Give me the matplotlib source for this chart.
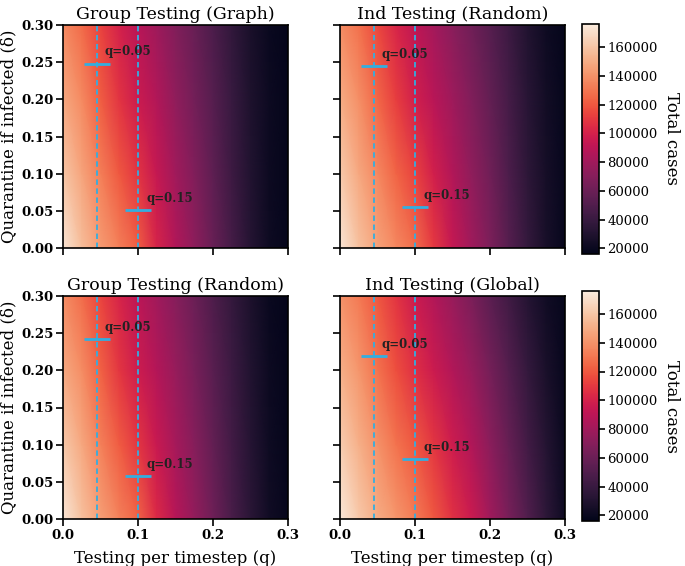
import numpy as np
import matplotlib
matplotlib.use("Agg")
import matplotlib.pyplot as plt
import seaborn as sns

plt.rcParams['font.family'] = ['DejaVu Serif']

# grid of the heatmaps
q_vals = [0.0, 0.025, 0.05, 0.075, 0.1, 0.125, 0.15, 0.175, 0.2, 0.225, 0.25, 0.275, 0.3]
delta_vals = [0.0, 0.1, 0.2, 0.3]

# total cases (thousands), one row per delta
group_graph = [
    [173, 157, 144, 133, 122, 101, 86, 73, 59, 45, 32, 22, 18],
    [160, 147, 133, 120, 108, 94, 80, 68, 55, 42, 30, 21, 17.5],
    [148, 137, 122, 108, 96, 86, 74, 63, 52, 40, 29, 21, 17.5],
    [137, 126, 113, 100, 89, 79, 68, 59, 48, 37, 27, 20, 17],
]
ind_random = [
    [174, 158, 146, 136, 127, 110, 94, 80, 67, 52, 38, 26, 19],
    [162, 148, 136, 124, 113, 99, 86, 74, 62, 48, 35, 25, 18.5],
    [150, 139, 125, 111, 99, 89, 79, 68, 57, 45, 33, 24, 18],
    [138, 128, 115, 102, 91, 81, 71, 62, 52, 41, 30, 22, 17.5],
]
group_random = [
    [174, 158, 145, 134, 124, 104, 88, 75, 61, 47, 34, 23, 18],
    [161, 148, 134, 121, 109, 95, 82, 70, 57, 44, 32, 22, 17.5],
    [149, 138, 123, 109, 97, 87, 76, 65, 53, 41, 30, 21, 17.5],
    [138, 127, 114, 101, 90, 80, 70, 60, 49, 38, 28, 20, 17],
]
ind_global = [
    [175, 161, 150, 141, 132, 120, 107, 96, 80, 65, 50, 35, 22],
    [163, 151, 140, 129, 120, 109, 97, 86, 72, 58, 44, 31, 20],
    [151, 141, 129, 117, 106, 96, 86, 76, 64, 51, 38, 27, 19],
    [140, 131, 120, 108, 96, 86, 76, 66, 54, 43, 32, 23, 18],
]

titles = ["Group Testing (Graph)", "Ind Testing (Random)",
          "Group Testing (Random)", "Ind Testing (Global)"]
panels = [group_graph, ind_random, group_random, ind_global]

# chosen operating points (q, delta) per panel
q_lines = [0.045, 0.1]
mark_q = [0.045, 0.1]
mark_delta = [[0.248, 0.051], [0.245, 0.055], [0.242, 0.058], [0.219, 0.081]]
mark_labels = ["q=0.05", "q=0.15"]

vmin, vmax = 16000, 176000
cbar_ticks = [20000, 40000, 60000, 80000, 100000, 120000, 140000, 160000]

W, H = 685, 566
fig = plt.figure(figsize=(W / 100, H / 100), dpi=100)

def px_axes(x0, x1, y0, y1):
    return fig.add_axes([x0 / W, 1 - y1 / H, (x1 - x0) / W, (y1 - y0) / H])

axes = [px_axes(63, 288, 25, 248), px_axes(340, 565, 25, 248),
        px_axes(63, 288, 296, 519), px_axes(340, 565, 296, 519)]
caxes = [px_axes(582, 599, 24, 254), px_axes(582, 599, 291, 521)]

cmap = sns.color_palette("rocket", as_cmap=True)
line_col = '#33aee0'

for i, ax in enumerate(axes):
    Z = np.array(panels[i]) * 1000
    mesh = ax.pcolormesh(q_vals, delta_vals, Z, cmap=cmap, vmin=vmin, vmax=vmax,
                         shading='gouraud', rasterized=True)
    for ql in q_lines:
        ax.axvline(ql, color=line_col, ls='--', lw=1.3, dashes=(3, 2))
    for j in range(2):
        ax.plot(mark_q[j], mark_delta[i][j], marker='_', ms=19, mew=2, color=line_col)
        ax.text(mark_q[j] + 0.011, mark_delta[i][j] + 0.011, mark_labels[j],
                fontsize=8.5, fontweight='bold', color='#222222')
    ax.set_xlim(0, 0.3)
    ax.set_ylim(0, 0.3)
    ax.set_xticks([0.0, 0.1, 0.2, 0.3])
    ax.set_yticks([0.0, 0.05, 0.1, 0.15, 0.2, 0.25, 0.3])
    ax.tick_params(labelsize=9.5, length=5, width=1.2, pad=2)
    ax.set_title(titles[i], fontsize=12.5, pad=4)
    for s in ax.spines.values():
        s.set_linewidth(1.2)
    if i < 2:
        ax.set_xticklabels([])
    else:
        ax.set_xticklabels(['0.0', '0.1', '0.2', '0.3'], fontweight='bold')
        ax.set_xlabel("Testing per timestep (q)", fontsize=12, labelpad=6)
    if i % 2 == 1:
        ax.set_yticklabels([])
    else:
        ax.set_yticklabels(['0.00', '0.05', '0.10', '0.15', '0.20', '0.25', '0.30'],
                           fontweight='bold')
        ax.set_ylabel("Quarantine if infected (δ)", fontsize=12, labelpad=3)
    if i % 2 == 1:
        cb = fig.colorbar(mesh, cax=caxes[i // 2], ticks=cbar_ticks)
        cb.ax.tick_params(labelsize=9.5, length=4, width=1.2, pad=2)
        cb.outline.set_linewidth(1.2)
        cb.set_label("Total cases", rotation=270, fontsize=12, labelpad=16)

fig.savefig("out.png", dpi=100)
